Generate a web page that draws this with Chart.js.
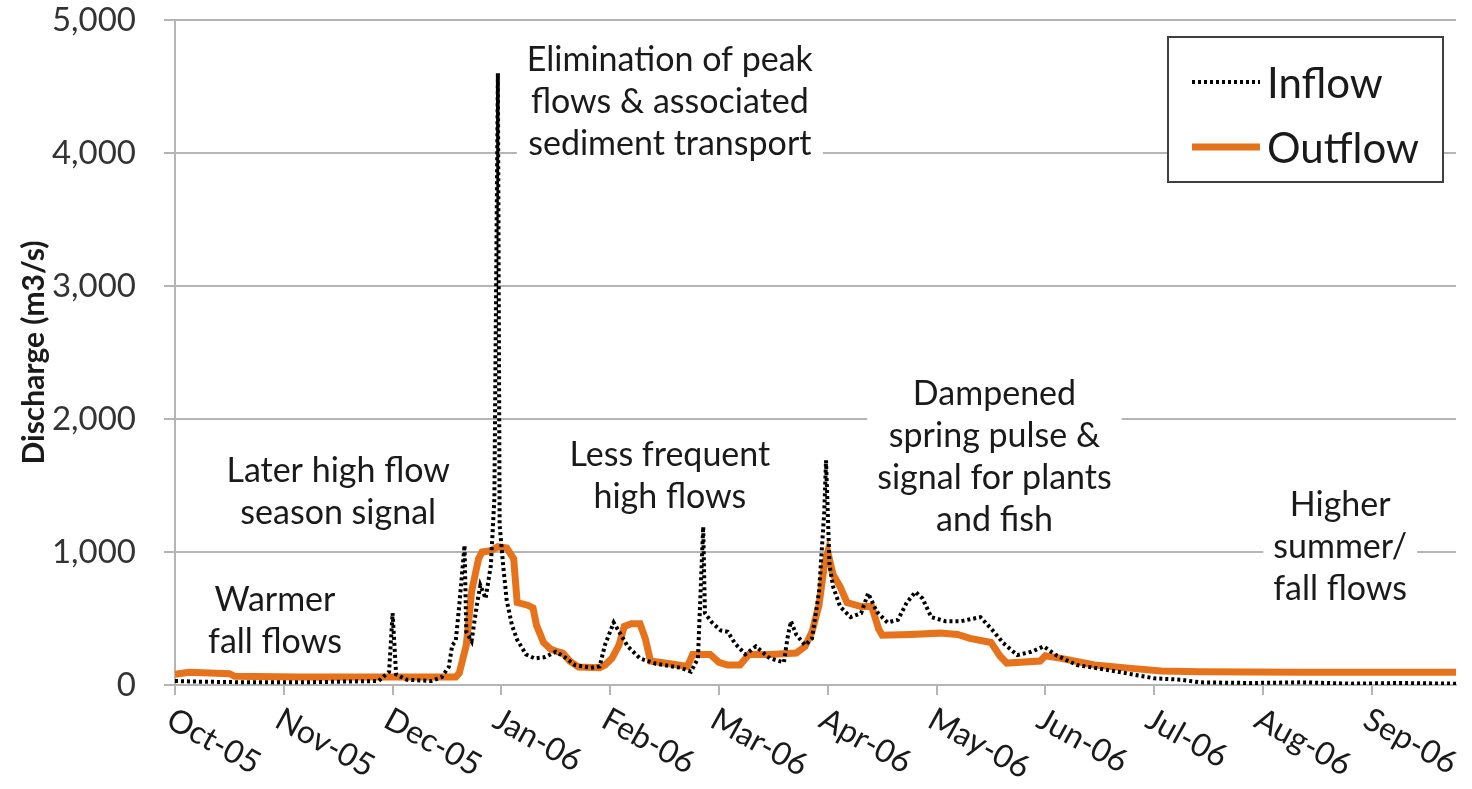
<!DOCTYPE html>
<html>
<head>
<meta charset="utf-8">
<script src="https://cdn.jsdelivr.net/npm/chart.js@4.4.1/dist/chart.umd.min.js"></script>
<style>
  html, body { margin: 0; padding: 0; background: #fff; }
  #wrap { width: 1472px; height: 789px; }
</style>
</head>
<body>
<div id="wrap"><canvas id="flowChart" width="1472" height="789"></canvas></div>
<script>
// x axis = days since 1 Oct 2005, ticks every 31 days like the original sheet
const tickDays = [0, 31, 62, 93, 124, 155, 186, 217, 248, 279, 310, 341];
const tickLabels = ['Oct-05', 'Nov-05', 'Dec-05', 'Jan-06', 'Feb-06', 'Mar-06',
                    'Apr-06', 'May-06', 'Jun-06', 'Jul-06', 'Aug-06', 'Sep-06'];
const yTicks = [0, 1000, 2000, 3000, 4000, 5000];

// Inflow (dotted black)
const inflowDays = [0, 7, 21, 36, 58, 61, 62, 63, 66, 73, 76, 78, 79, 80, 81, 82.5, 83, 84.5, 86, 87, 88.5, 90, 91, 92, 92.5, 93.5, 94.5, 96, 97.5, 100, 102.5, 105.5, 108.5, 111, 114, 118.5, 121, 122.5, 125, 127, 129, 132.5, 137, 144, 147, 149, 150.5, 151, 153, 155.5, 157.5, 159.5, 162.5, 165.5, 169.5, 173.5, 174.5, 175.5, 177, 179.5, 181.5, 183.5, 185, 185.5, 186.5, 187.5, 189.5, 192.5, 195.5, 197.5, 200, 203, 206, 208.5, 211, 213, 215.5, 219.5, 224, 229.5, 233, 236, 240, 244, 247.5, 251, 257, 266.5, 279, 286.5, 292, 306.5, 321, 335, 349, 365];
const inflowValues = [30, 25, 20, 20, 30, 100, 540, 80, 40, 30, 60, 135, 300, 330, 600, 1050, 400, 330, 600, 750, 650, 900, 1400, 4600, 1200, 900, 640, 450, 340, 230, 200, 210, 250, 210, 150, 130, 140, 300, 470, 380, 290, 200, 160, 130, 100, 200, 1190, 540, 470, 410, 400, 315, 230, 290, 200, 170, 350, 480, 380, 300, 350, 700, 1300, 1690, 900, 740, 590, 510, 540, 690, 550, 470, 490, 620, 700, 650, 510, 480, 480, 510, 410, 315, 225, 250, 290, 225, 150, 110, 50, 40, 20, 15, 20, 10, 15, 10];

// Outflow (solid orange)
const outflowDays = [0, 4, 15.5, 17, 35.5, 64, 80, 81, 83, 84.5, 86.5, 87.5, 90, 92, 94.5, 96.5, 97.5, 100.5, 102, 103, 105, 107, 109, 110.5, 112.5, 115, 121, 122.5, 124.5, 126.5, 128, 130, 132.5, 134, 135.5, 141, 146, 147.5, 152.5, 155, 157.5, 161, 163.5, 169.5, 177, 179.5, 181.5, 183.5, 185, 186, 187.5, 189.5, 191.5, 195.5, 198.5, 200.5, 201.5, 209.5, 218, 223, 226.5, 232.5, 235, 237, 246.5, 248, 252.5, 262, 272.5, 281, 292, 321, 365];
const outflowValues = [80, 95, 85, 65, 60, 60, 60, 90, 300, 700, 950, 1000, 1010, 1040, 1030, 950, 620, 600, 580, 450, 320, 270, 250, 240, 180, 135, 130, 150, 200, 300, 440, 460, 460, 350, 180, 160, 140, 230, 230, 170, 150, 150, 230, 230, 240, 290, 400, 600, 900, 1000, 830, 740, 620, 590, 590, 420, 375, 380, 390, 380, 350, 320, 220, 165, 180, 220, 200, 150, 125, 105, 100, 95, 95];

// text notes placed in data units (day, value of first line)
const notes = [
  { day: 28.5, value: 640, lines: ['Warmer', 'fall flows'] },
  { day: 46.5, value: 1610, lines: ['Later high flow', 'season signal'] },
  { day: 141, value: 4700, lines: ['Elimination of peak', 'flows & associated', 'sediment transport'] },
  { day: 141, value: 1730, lines: ['Less frequent', 'high flows'] },
  { day: 233.5, value: 2190, lines: ['Dampened', 'spring pulse &', 'signal for plants', 'and fish'] },
  { day: 332, value: 1350, lines: ['Higher', 'summer/', 'fall flows'] }
];

const FONT = 'Lato, "Open Sans", sans-serif';
const GRID = '#b5b5b5';

// notes get a white box so the grid lines stop behind them, like in excel
const notesPlugin = {
  id: 'notes',
  beforeDatasetsDraw(chart) {
    const ctx = chart.ctx;
    const xs = chart.scales.x, ys = chart.scales.y;
    ctx.save();
    ctx.font = '34px ' + FONT;
    ctx.textAlign = 'center';
    ctx.textBaseline = 'middle';
    notes.forEach(n => {
      const cx = xs.getPixelForValue(n.day);
      const cy = ys.getPixelForValue(n.value);
      const w = Math.max(...n.lines.map(l => ctx.measureText(l).width));
      ctx.fillStyle = '#fff';
      ctx.fillRect(cx - w / 2 - 10, cy - 22, w + 20, n.lines.length * 42 + 2);
      ctx.fillStyle = '#1a1a1a';
      n.lines.forEach((l, i) => ctx.fillText(l, cx, cy + i * 42));
    });
    ctx.restore();
  }
};

// month labels turned clockwise, starting at the tick
const xLabelsPlugin = {
  id: 'xLabels',
  afterDraw(chart) {
    const ctx = chart.ctx;
    const xs = chart.scales.x;
    const base = chart.chartArea.bottom;
    ctx.save();
    ctx.font = '32px ' + FONT;
    ctx.fillStyle = '#1a1a1a';
    ctx.textAlign = 'left';
    ctx.textBaseline = 'top';
    tickDays.forEach((d, i) => {
      const x = xs.getPixelForValue(d);
      ctx.save();
      ctx.translate(x + 2, base + 18);
      ctx.rotate(29 * Math.PI / 180);
      ctx.fillText(tickLabels[i], 0, 0);
      ctx.restore();
    });
    ctx.restore();
  }
};

// boxed legend in the top right corner
const legendPlugin = {
  id: 'boxLegend',
  afterDraw(chart) {
    const ctx = chart.ctx;
    const left = 1168, top = 37, w = 275, h = 145;
    ctx.save();
    ctx.fillStyle = '#fff';
    ctx.fillRect(left, top, w, h);
    ctx.strokeStyle = '#404040';
    ctx.lineWidth = 2;
    ctx.strokeRect(left, top, w, h);
    ctx.font = '42px ' + FONT;
    ctx.textBaseline = 'middle';
    chart.data.datasets.forEach((ds, i) => {
      const y = top + 45 + i * 65;
      ctx.beginPath();
      ctx.setLineDash(ds.borderDash || []);
      ctx.strokeStyle = ds.borderColor;
      ctx.lineWidth = ds.borderWidth;
      ctx.moveTo(left + 24, y);
      ctx.lineTo(left + 92, y);
      ctx.stroke();
      ctx.setLineDash([]);
      ctx.fillStyle = '#1a1a1a';
      ctx.fillText(ds.label, left + 99, y + 2);
    });
    ctx.restore();
  }
};

const toPoints = (days, vals) => days.map((d, i) => ({ x: d, y: vals[i] }));

const ctx = document.getElementById('flowChart').getContext('2d');
new Chart(ctx, {
  type: 'line',
  data: {
    datasets: [
      {
        label: 'Inflow',
        data: toPoints(inflowDays, inflowValues),
        borderColor: '#000000',
        borderWidth: 4,
        borderDash: [3, 3],
        pointRadius: 0,
        tension: 0,
        fill: false
      },
      {
        label: 'Outflow',
        data: toPoints(outflowDays, outflowValues),
        borderColor: '#e6731b',
        borderWidth: 7,
        pointRadius: 0,
        tension: 0,
        fill: false
      }
    ]
  },
  options: {
    responsive: false,
    animation: false,
    layout: { padding: { top: 20, right: 16, left: 0, bottom: 0 } },
    plugins: { legend: { display: false }, tooltip: { enabled: false } },
    scales: {
      x: {
        type: 'linear',
        min: 0,
        max: 365,
        afterBuildTicks: s => { s.ticks = tickDays.map(v => ({ value: v })); },
        afterFit: s => { s.height = 104; s.paddingLeft = 0; s.paddingRight = 0; },
        ticks: { display: false },
        grid: { drawOnChartArea: false, drawTicks: true, tickLength: 10, color: GRID, lineWidth: 2 },
        border: { display: true, color: GRID, width: 2 }
      },
      y: {
        min: 0,
        max: 5000,
        afterBuildTicks: s => { s.ticks = yTicks.map(v => ({ value: v })); },
        // keep the tick padding from pushing the plot top down
        afterFit: s => { s.width = 175; s.paddingTop = 0; s.paddingBottom = 0; },
        ticks: {
          padding: 28,
          color: '#333',
          font: { family: FONT, size: 33 },
          callback: v => v.toLocaleString('en-US')
        },
        grid: { color: GRID, lineWidth: 2, tickLength: 11 },
        border: { display: true, color: GRID, width: 2 },
        title: {
          display: true,
          text: 'Discharge (m3/s)',
          color: '#1a1a1a',
          font: { family: FONT, size: 30, weight: 'bold' },
          padding: { top: 16, bottom: 0 }
        }
      }
    }
  },
  plugins: [notesPlugin, xLabelsPlugin, legendPlugin]
});
</script>
</body>
</html>
